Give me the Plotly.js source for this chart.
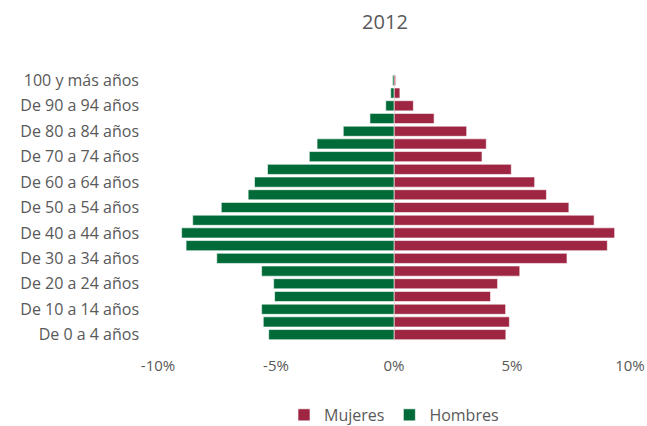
<!DOCTYPE html>
<html>
<head>
<meta charset="utf-8">
<script src="https://cdn.plot.ly/plotly-3.0.1.min.js"></script>
<style>html,body{margin:0;padding:0;background:#fff;}#chart{width:647px;height:426px;}</style>
</head>
<body>
<div id="chart"></div>
<script>
const categories = [
  "De 0 a 4 años","De 5 a 9 años","De 10 a 14 años","De 15 a 19 años","De 20 a 24 años",
  "De 25 a 29 años","De 30 a 34 años","De 35 a 39 años","De 40 a 44 años","De 45 a 49 años",
  "De 50 a 54 años","De 55 a 59 años","De 60 a 64 años","De 65 a 69 años","De 70 a 74 años",
  "De 75 a 79 años","De 80 a 84 años","De 85 a 89 años","De 90 a 94 años","De 95 a 99 años",
  "100 y más años"
];
const mujeres = [4.74, 4.89, 4.73, 4.09, 4.39, 5.33, 7.33, 9.04, 9.35, 8.48, 7.41, 6.46, 5.96, 4.97, 3.73, 3.91, 3.08, 1.70, 0.82, 0.25, 0.07];
const hombres = [-5.31, -5.54, -5.61, -5.06, -5.10, -5.61, -7.51, -8.81, -9.00, -8.53, -7.32, -6.18, -5.91, -5.36, -3.59, -3.26, -2.15, -1.02, -0.35, -0.14, -0.06];
const shownCategories = categories.filter((c, i) => i % 2 === 0);
const xTicks = [-10, -5, 0, 5, 10];
const xTickText = ["-10%", "-5%", "0%", "5%", "10%"];

const fam = "'Open Sans', sans-serif";
const grey = "#595959";

const data = [
  {type: "bar", orientation: "h", name: "Mujeres", y: categories, x: mujeres,
   marker: {color: "#9F2642", line: {color: "rgba(255,255,255,0.6)", width: 1}}},
  {type: "bar", orientation: "h", name: "Hombres", y: categories, x: hombres,
   marker: {color: "#006B38", line: {color: "rgba(255,255,255,0.6)", width: 1}}}
];

const layout = {
  width: 647, height: 426,
  margin: {l: 158, r: 17, t: 74, b: 85},
  paper_bgcolor: "#fff", plot_bgcolor: "#fff",
  font: {family: fam, size: 15, color: grey},
  title: {text: "2012", x: 0.595, xref: "container", xanchor: "center", y: 0.948, yanchor: "middle", font: {family: fam, size: 20, color: grey}},
  barmode: "overlay",
  bargap: 0.2,
  showlegend: true,
  legend: {orientation: "h", x: 0.5, xanchor: "center", xref: "paper", yref: "container", y: 0.026, yanchor: "middle",
           font: {family: fam, size: 16, color: grey}, itemwidth: 30, tracegroupgap: 0},
  xaxis: {range: [-10, 10], tickvals: xTicks, ticktext: xTickText, showgrid: false,
          zeroline: true, zerolinecolor: "#d9d9d9", zerolinewidth: 1, showline: false,
          ticks: "", ticklabelstandoff: 14, tickfont: {family: fam, size: 15, color: grey}, fixedrange: true},
  yaxis: {type: "category", categoryorder: "array", categoryarray: categories,
          range: [-0.5, 20.5], tickvals: shownCategories, ticktext: shownCategories,
          showgrid: false, zeroline: false, showline: false, ticks: "",
          ticklabelstandoff: 18, tickfont: {family: fam, size: 16, color: grey}, fixedrange: true}
};

Plotly.newPlot("chart", data, layout, {displayModeBar: false, staticPlot: true});
</script>
</body>
</html>
